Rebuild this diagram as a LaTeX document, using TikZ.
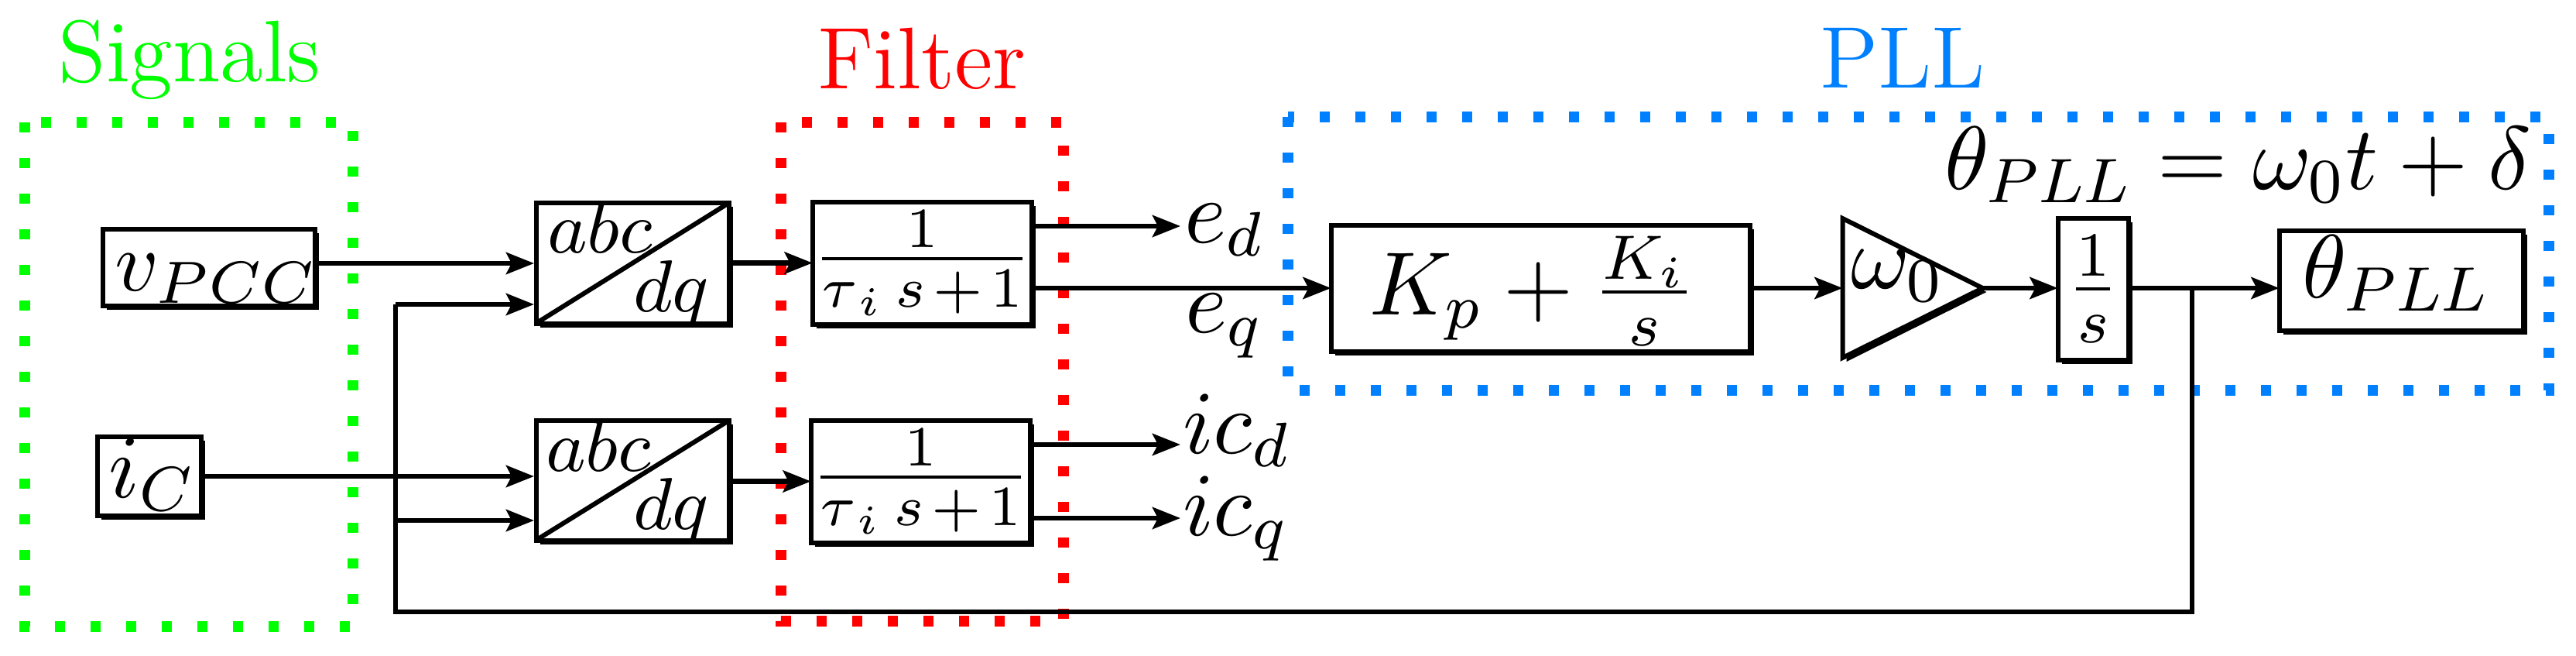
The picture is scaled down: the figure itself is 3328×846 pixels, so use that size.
\RequirePackage{fix-cm}
\documentclass[tikz,border=0pt]{standalone}
\usetikzlibrary{arrows.meta,shadows,shapes.geometric}
\definecolor{sigGreen}{RGB}{0,255,0}
\definecolor{filtRed}{RGB}{255,0,0}
\definecolor{pllBlue}{RGB}{0,128,255}
\begin{document}
\begin{tikzpicture}[x=0.1pt,y=-0.1pt,
  font=\fontsize{11.6}{14}\selectfont,
  blk/.style={draw, line width=0.6pt, fill=white, inner sep=0pt, outer sep=0pt,
    drop shadow={shadow xshift=0.5pt, shadow yshift=-0.5pt, opacity=1, fill=black}},
  tri/.style={blk, isosceles triangle, isosceles triangle stretches, shape border rotate=0},
  conn/.style={line width=0.65pt, -{Stealth[length=3.6pt,width=2.8pt,inset=0.7pt]}},
  wire/.style={line width=0.62pt},
  grp/.style={line width=1.4pt, dash pattern=on 1.3pt off 3.3pt},
  txt/.style={inner sep=0pt, outer sep=0pt},
  ttl/.style={inner sep=0pt, anchor=base, font=\fontsize{11.3}{13}\selectfont},
  small/.style={font=\fontsize{9.5}{11}\selectfont},
  filt/.style={font=\fontsize{10.5}{12}\selectfont},
]
\useasboundingbox (0,0) rectangle (3328,846);

% group frames
\draw[grp, sigGreen] (32,158) rectangle (456,809);
\draw[grp, filtRed] (1009,158) rectangle (1374,802);
\draw[grp, pllBlue] (1664,151) rectangle (3293,504);

% titles
\node[ttl, text=sigGreen] (tsig) at (245,105) {Signals};
\node[ttl, text=filtRed] (tfil) at (1191,114) {Filter};
\node[ttl, text=pllBlue] (tpll) at (2458,113) {PLL};

% blocks
\node[blk, minimum width=27.5pt, minimum height=9.9pt] (vpcc) at (270,345) {};
\node[txt, anchor=base west, font=\fontsize{11}{13}\selectfont] (vpcct) at (148,375) {$v_{PCC}$};
\node[blk, minimum width=13.5pt, minimum height=10.2pt] (ic) at (193,614.5) {};
\node[txt, anchor=base west] (ict) at (141,642) {$i_C$};

\node[blk, minimum width=25pt, minimum height=15.6pt] (abc1) at (817.5,339.5) {};
\draw[line width=0.6pt] (abc1.south west) -- (abc1.north east);
\node[txt, small, anchor=base west] (abc1a) at (707,326) {$abc$};
\node[txt, small, anchor=base east] (abc1b) at (916,402) {$dq$};

\node[blk, minimum width=25pt, minimum height=15.5pt] (abc2) at (817.5,620) {};
\draw[line width=0.6pt] (abc2.south west) -- (abc2.north east);
\node[txt, small, anchor=base west] (abc2a) at (705,608) {$abc$};
\node[txt, small, anchor=base east] (abc2b) at (916,683) {$dq$};

\node[blk, filt, minimum width=25.2pt, minimum height=15.8pt] (f1) at (1191.5,339.5) {$\frac{1}{\tau_{\mkern2mu i}\mkern3mu s\mkern2mu+\mkern2mu 1}$};
\node[blk, filt, minimum width=25.2pt, minimum height=15.8pt] (f2) at (1189.5,621.5) {$\frac{1}{\tau_{\mkern2mu i}\mkern3mu s\mkern2mu+\mkern2mu 1}$};

\node[blk, minimum width=54.2pt, minimum height=16.3pt] (pi) at (1990.5,372) {};
\node[txt, anchor=base] (pit) at (1980,406) {$K_p+\frac{K_i}{s}$};

\node[tri, minimum width=18pt, minimum height=18.1pt, anchor=west] (gain) at (2380.5,372) {};
\node[txt, anchor=base west] (gaint) at (2391,372) {$\omega_0$};

\node[blk, minimum width=9.1pt, minimum height=18.3pt] (integ) at (2704,373) {$\frac{1}{s}$};

\node[blk, minimum width=31.5pt, minimum height=12.9pt] (th) at (3102,362) {};
\node[txt, anchor=base west] (tht) at (2974,384) {$\theta_{PLL}$};

\node[txt, anchor=base west] (eqn) at (2512,244) {$\theta_{PLL}=\omega_0 t+\delta$};

% outputs labels
\node[txt, anchor=base west] (edl) at (1530,313) {$e_d$};
\node[txt, anchor=base west] (eql) at (1531,429) {$e_q$};
\node[txt, anchor=base west] (icdl) at (1528,585) {$ic_d$};
\node[txt, anchor=base west] (icql) at (1528,691) {$ic_q$};

% ports
\coordinate (a1i1) at (690,340);
\coordinate (a1i2) at (690,393);
\coordinate (a2i1) at (690,615);
\coordinate (a2i2) at (690,672);
\coordinate (edp) at (1525,292);
\coordinate (icdp) at (1525,574);
\coordinate (icqp) at (1525,669);
\coordinate (br) at (2832,372);
\coordinate (fbL) at (511,790);
\coordinate (fbT) at (511,393);

% connectors
\draw[conn] (vpcc.east |- a1i1) -- (a1i1);
\draw[conn] (ic.east |- a2i1) -- (a2i1);
\draw[wire] (br) |- (fbL) -- (fbT);
\draw[conn] (fbT) -- (a1i2);
\draw[conn] (fbL |- a2i2) -- (a2i2);
\draw[conn] (abc1.east) -- (f1.west);
\draw[conn] (abc2.east |- f2.west) -- (f2.west);
\draw[conn] (f1.east |- edp) -- (edp);
\draw[conn] (f1.east |- pi.west) -- (pi.west);
\draw[conn] (f2.east |- icdp) -- (icdp);
\draw[conn] (f2.east |- icqp) -- (icqp);
\draw[conn] (pi.east) -- (gain.west);
\draw[conn] (gain.apex) -- (gain.apex -| integ.west);
\draw[wire] (integ.east |- br) -- (br);
\draw[conn] (br) -- (br -| th.west);
\end{tikzpicture}
\end{document}
